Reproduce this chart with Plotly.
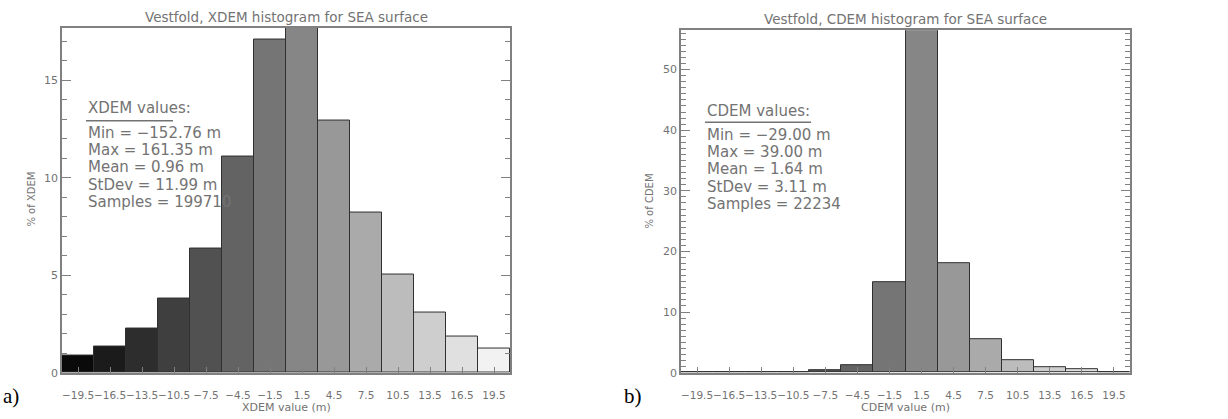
import plotly.graph_objects as go

# ---- data ----
bin_centers = [-19.5, -16.5, -13.5, -10.5, -7.5, -4.5, -1.5, 1.5, 4.5, 7.5, 10.5, 13.5, 16.5, 19.5]
tick_labels = ["−19.5", "−16.5", "−13.5", "−10.5", "−7.5", "−4.5", "−1.5",
               "1.5", "4.5", "7.5", "10.5", "13.5", "16.5", "19.5"]
xdem_pct = [0.87, 1.33, 2.24, 3.78, 6.39, 11.1, 17.08, 17.7, 12.93, 8.2, 5.04, 3.09, 1.84, 1.26]
cdem_pct = [0.03, 0.03, 0.06, 0.15, 0.4, 1.25, 14.9, 56.5, 18.1, 5.6, 2.0, 0.85, 0.5, 0.1]

xdem_stats = ["Min = −152.76 m", "Max = 161.35 m", "Mean = 0.96 m", "StDev = 11.99 m", "Samples = 199710"]
cdem_stats = ["Min = −29.00 m", "Max = 39.00 m", "Mean = 1.64 m", "StDev = 3.11 m", "Samples = 22234"]

# ---- styles ----
W, H = 1228, 419
gray_levels = [int(10 + i * 232 / 13) for i in range(len(bin_centers))]
bar_colors = [f"rgb({g},{g},{g})" for g in gray_levels]
txt = "#737373"
axc = "#808080"
font = "DejaVu Sans"

def px(x):
    return x / W

def py(y):
    return (H - y) / H

fig = go.Figure()
fig.add_trace(go.Bar(x=bin_centers, y=xdem_pct, width=3, marker=dict(color=bar_colors,
                     line=dict(color="#303030", width=1)), xaxis="x", yaxis="y", showlegend=False))
fig.add_trace(go.Bar(x=bin_centers, y=cdem_pct, width=3, marker=dict(color=bar_colors,
                     line=dict(color="#303030", width=1)), xaxis="x2", yaxis="y2", showlegend=False))

def xax(domain, anchor):
    return dict(domain=domain, anchor=anchor, range=[-21, 21], tickmode="array",
                tickvals=bin_centers, ticktext=tick_labels, ticks="inside", ticklen=6,
                tickcolor=axc, showline=True, linecolor=axc, linewidth=1.5, mirror=True,
                showgrid=False, zeroline=False, tickangle=0, ticklabelstandoff=12,
                tickfont=dict(family=font, size=10.5, color=txt))

def yax(domain, anchor, rng, dtick):
    return dict(domain=domain, anchor=anchor, range=rng, dtick=dtick, ticks="inside",
                ticklen=9, tickcolor=axc, showline=True, linecolor=axc, linewidth=1.5,
                mirror="ticks", showgrid=False, zeroline=False,
                minor=dict(dtick=1, ticks="inside", ticklen=5, tickcolor=axc, showgrid=False),
                tickfont=dict(family=font, size=11, color=txt))

fig.update_layout(
    width=W, height=H, margin=dict(l=0, r=0, t=0, b=0),
    paper_bgcolor="white", plot_bgcolor="white", bargap=0,
    xaxis=xax([px(62), px(510)], "y"),
    yaxis=yax([py(379), py(28)], "x", [0, 17.7], 5),
    xaxis2=xax([px(681), px(1130)], "y2"),
    yaxis2=yax([py(379), py(30.7)], "x2", [0, 56.5], 10),
)

ann = []
def add(text, x, y, size=15, color=txt, fam=font, angle=0, xanchor="left"):
    ann.append(dict(text=text, x=px(x), y=py(y), xref="paper", yref="paper", showarrow=False,
                    xanchor=xanchor, yanchor="middle", textangle=angle,
                    font=dict(family=fam, size=size, color=color)))

# titles
add("Vestfold, XDEM histogram for SEA surface", 286, 17, size=13.5, xanchor="center")
add("Vestfold, CDEM histogram for SEA surface", 905, 19, size=13.5, xanchor="center")
# axis titles
add("XDEM value (m)", 286, 414, size=11, xanchor="center")
add("CDEM value (m)", 905, 414, size=11, xanchor="center")
add("% of XDEM", 32, 203, size=10, angle=-90, xanchor="center")
add("% of CDEM", 650, 205, size=10, angle=-90, xanchor="center")
# stats
add("XDEM values:", 86, 110)
for i, s in enumerate(xdem_stats):
    add(s, 86, 135 + i * 17.6)
add("CDEM values:", 705, 113)
for i, s in enumerate(cdem_stats):
    add(s, 705, 137 + i * 17.6)
# panel letters
add("a)", 1, 403, size=21, color="black", fam="Liberation Serif")
add("b)", 622, 403, size=21, color="black", fam="Liberation Serif")
fig.update_layout(annotations=ann)

fig.add_shape(type="line", xref="paper", yref="paper", x0=px(86), x1=px(173), y0=py(122.7), y1=py(122.7),
              line=dict(color=txt, width=1.5))
fig.add_shape(type="line", xref="paper", yref="paper", x0=px(705), x1=px(811), y0=py(124.3), y1=py(124.3),
              line=dict(color=txt, width=1.5))

fig.write_html("out.html")
